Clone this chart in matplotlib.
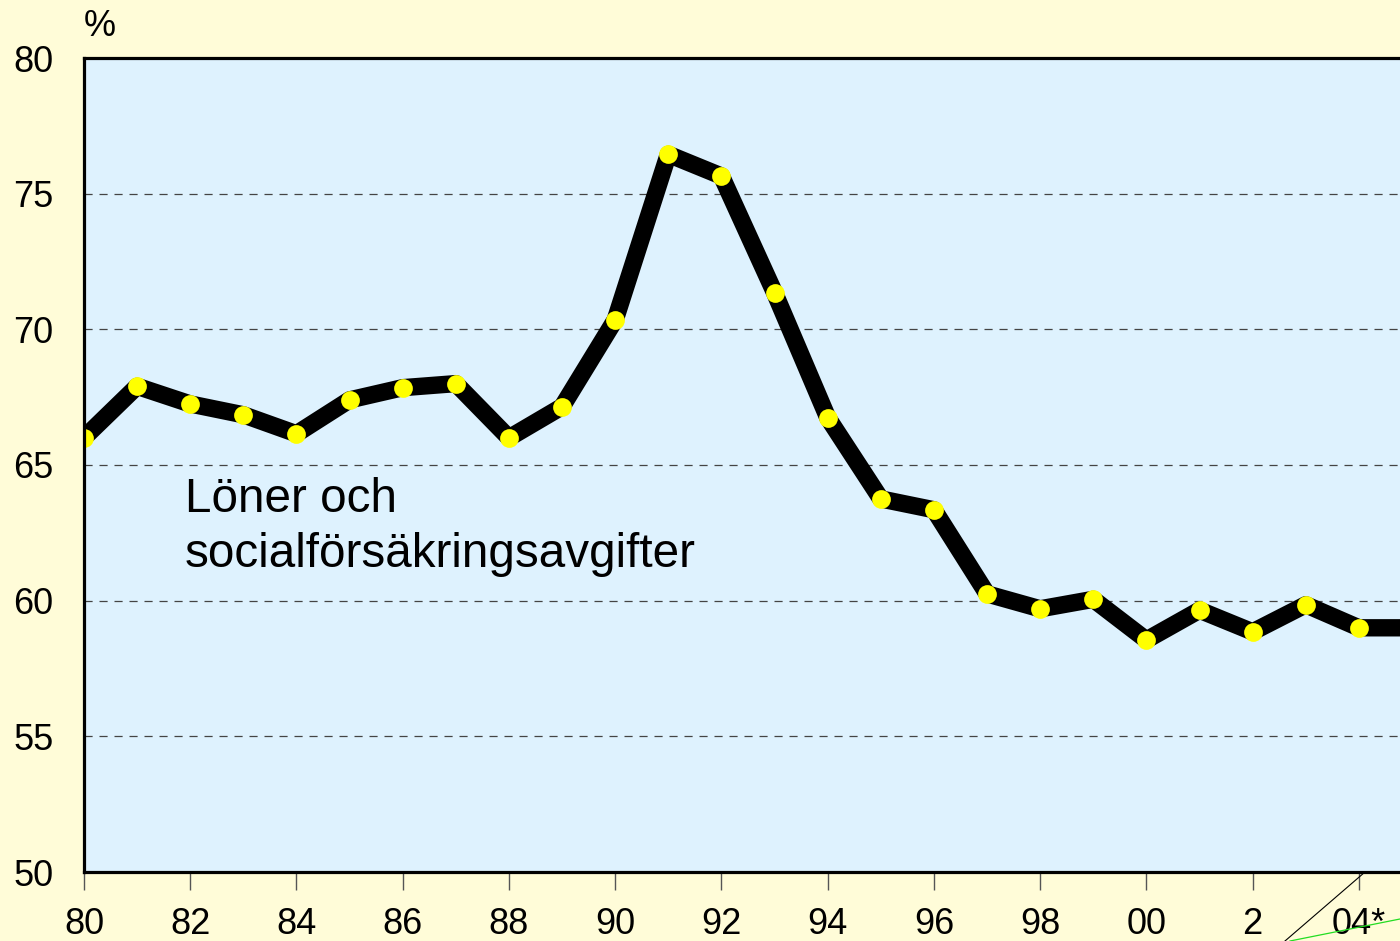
import matplotlib
matplotlib.use("Agg")
import matplotlib.pyplot as plt
from matplotlib.lines import Line2D

plt.rcParams['font.family'] = ['Liberation Sans', 'DejaVu Sans']

years = list(range(1980, 2006))
values = [66.0, 67.9, 67.25, 66.85, 66.15, 67.4, 67.85, 68.0, 66.0, 67.15,
          70.35, 76.45, 75.65, 71.35, 66.75, 63.75, 63.35, 60.25, 59.7, 60.05,
          58.55, 59.65, 58.85, 59.85, 59.0, 59.0]
tick_years = list(range(1980, 2005, 2))
tick_labels = ['80', '82', '84', '86', '88', '90', '92', '94', '96', '98', '00', '2', '04*']
y_ticks = [50, 55, 60, 65, 70, 75, 80]
label_lines = ['Löner och', 'socialförsäkringsavgifter']

W, H = 1400, 941
fig = plt.figure(figsize=(W / 100, H / 100), dpi=100)
fig.patch.set_facecolor('#FFFCD8')

px_per_year = 53.12
x0, x1 = 1980, 2006
left = 84 / W
bottom = (H - 872) / H
height = (872 - 58) / H
width = (x1 - x0) * px_per_year / W
ax = fig.add_axes([left, bottom, width, height])
ax.set_facecolor('#DEF2FE')
ax.set_xlim(x0, x1)
ax.set_ylim(50, 80)

for s in ax.spines.values():
    s.set_linewidth(2.3)
    s.set_color('black')
    s.set_zorder(5)

ax.set_yticks(y_ticks)
ax.set_yticklabels([str(v) for v in y_ticks])
ax.tick_params(axis='y', length=0, pad=22, labelsize=26)
ax.set_xticks(tick_years)
ax.set_xticklabels(tick_labels)
ax.tick_params(axis='x', direction='out', length=13, width=1.0, color='#555555',
               pad=12, labelsize=26)

for v in [55, 60, 65, 70, 75]:
    ax.axhline(v, color='#444444', lw=0.9, ls=(0, (6.5, 5.5)), zorder=1)

ax.plot(years, values, color='black', lw=12.5, solid_joinstyle='round',
        solid_capstyle='butt', zorder=3, clip_on=True)
ax.plot(years, values, ls='none', marker='o', ms=13.5, mfc='#FFFF00', mec='none',
        zorder=4, clip_on=True)

ax.text(1981.9, 63.27, label_lines[0], fontsize=34.3, va='baseline', ha='left')
ax.text(1981.9, 61.24, label_lines[1], fontsize=34.3, va='baseline', ha='left')

fig.text(100 / W, 1 - 26 / H, '%', fontsize=26, ha='center', va='center')

fig.add_artist(Line2D([1365 / W, 1285 / W], [1 - 872 / H, 1 - 941 / H],
                      transform=fig.transFigure, color='black', lw=0.8))
fig.add_artist(Line2D([1290 / W, 1400 / W], [1 - 941 / H, 1 - 919 / H],
                      transform=fig.transFigure, color='#22DD22', lw=0.9))

fig.savefig('out.png', dpi=100, facecolor=fig.get_facecolor())
